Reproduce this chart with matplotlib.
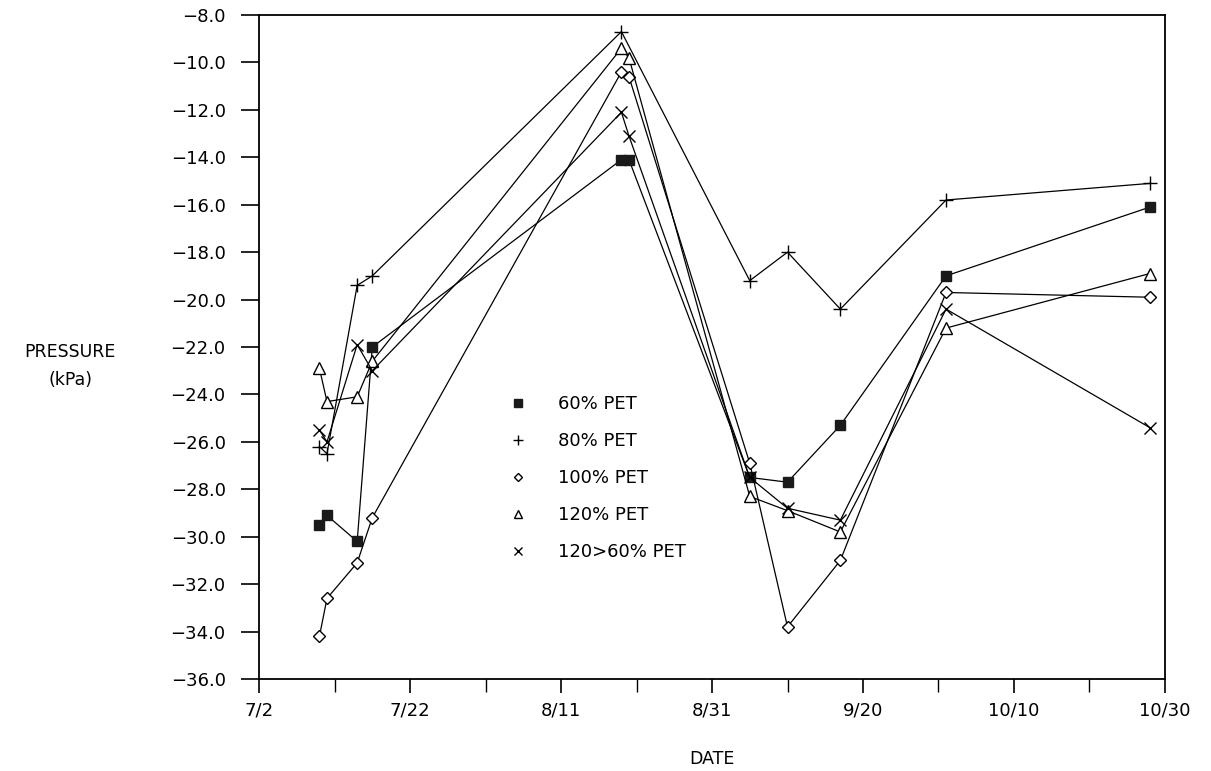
import datetime as dt
import matplotlib
matplotlib.use("Agg")
import matplotlib.pyplot as plt
import matplotlib.dates as mdates
from matplotlib.ticker import FixedLocator, FuncFormatter

# Sampling dates (month/day) and soil water pressure readings in kPa
dates = ["7/10", "7/11", "7/15", "7/17", "8/19", "8/20",
         "9/5", "9/10", "9/17", "10/1", "10/28"]

pet60 = [-29.5, -29.1, -30.2, -22.0, -14.1, -14.1, -27.5, -27.7, -25.3, -19.0, -16.1]
pet80 = [-26.2, -26.5, -19.4, -19.0, -8.7, None, -19.2, -18.0, -20.4, -15.8, -15.1]
pet100 = [-34.2, -32.6, -31.1, -29.2, -10.4, -10.6, -26.9, -33.8, -31.0, -19.7, -19.9]
pet120 = [-22.9, -24.3, -24.1, -22.6, -9.4, -9.8, -28.3, -28.9, -29.8, -21.2, -18.9]
pet120_60 = [-25.5, -26.0, -21.9, -23.0, -12.1, -13.1, -27.5, -28.8, -29.3, -20.4, -25.4]

YEAR = 1991


def to_date(s):
    return dt.datetime.strptime(f"{YEAR}/{s}", "%Y/%m/%d")


def clean(values):
    """Drop the missing readings so the line joins the remaining dates."""
    xs, ys = [], []
    for d, v in zip(dates, values):
        if v is not None:
            xs.append(to_date(d))
            ys.append(v)
    return xs, ys


plt.rcParams["font.family"] = "DejaVu Sans"

fig = plt.figure(figsize=(12.11, 7.71), dpi=100)
ax = fig.add_axes([0.2139, 0.1193, 0.962 - 0.2139, 0.9805 - 0.1193])

series = [
    (pet60, "60% PET", dict(marker="s", markersize=7.8, markerfacecolor="#1a1a1a",
                            markeredgecolor="#1a1a1a")),
    (pet80, "80% PET", dict(marker="+", markersize=10, markeredgewidth=1.0)),
    (pet100, "100% PET", dict(marker="D", markersize=6.2, markerfacecolor="white",
                              markeredgecolor="black", markeredgewidth=1.0)),
    (pet120, "120% PET", dict(marker="^", markersize=8.5, markerfacecolor="white",
                              markeredgecolor="black", markeredgewidth=1.0)),
    (pet120_60, "120>60% PET", dict(marker="x", markersize=8.5, markeredgewidth=1.0)),
]

handles = []
for values, label, style in series:
    xs, ys = clean(values)
    line, = ax.plot(xs, ys, color="black", linewidth=0.9, label=label, **style)
    handles.append(line)

# Axis limits and ticks
start = to_date("7/2")
end = to_date("10/30")
ax.set_xlim(start, end)
ax.set_ylim(-36.0, -8.0)

major_days = [start + dt.timedelta(days=d) for d in range(0, 121, 20)]
minor_days = [start + dt.timedelta(days=d) for d in range(10, 121, 20)]
ax.xaxis.set_major_locator(FixedLocator(mdates.date2num(major_days)))
ax.xaxis.set_minor_locator(FixedLocator(mdates.date2num(minor_days)))
ax.xaxis.set_major_formatter(FuncFormatter(
    lambda x, pos: f"{mdates.num2date(x).month}/{mdates.num2date(x).day}"))

ax.set_yticks([-36.0 + 2 * i for i in range(15)])
ax.yaxis.set_major_formatter(FuncFormatter(lambda y, pos: f"\u2212{abs(y):.1f}"))

ax.tick_params(axis="x", which="major", direction="out", length=10, width=1.2,
               labelsize=13, pad=6)
ax.tick_params(axis="x", which="minor", direction="out", length=9, width=1.0)
ax.tick_params(axis="y", direction="out", length=13, width=1.2, labelsize=13, pad=11)

for spine in ax.spines.values():
    spine.set_linewidth(1.3)

# Axis titles
fig.text(0.058, 0.525, "PRESSURE\n(kPa)", ha="center", va="center",
         fontsize=12.5, linespacing=1.75)
ax.set_xlabel("DATE", fontsize=12.5, labelpad=22)

leg = ax.legend(handles=handles, loc="upper left", bbox_to_anchor=(0.268, 0.452),
                frameon=False, fontsize=13, handlelength=0, handletextpad=2.2,
                labelspacing=1.05, markerscale=0.72)

fig.savefig("out.png", dpi=100)
